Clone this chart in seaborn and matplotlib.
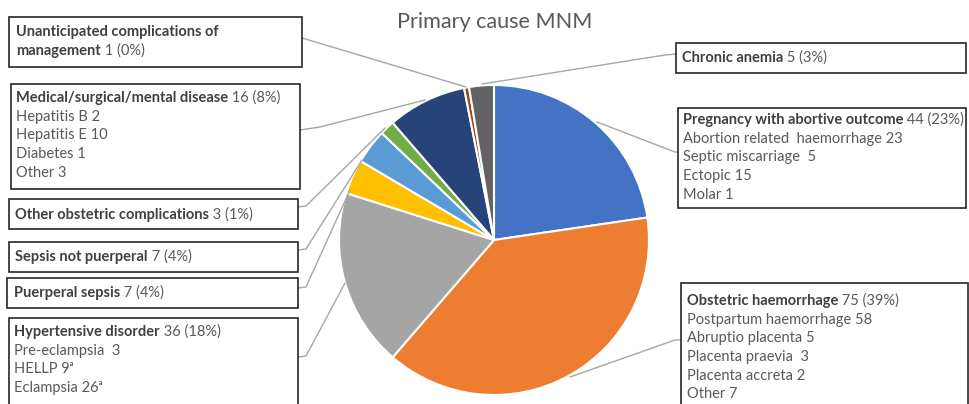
import matplotlib
matplotlib.use('Agg')
import matplotlib.pyplot as plt
import seaborn as sns
from matplotlib.patches import Rectangle

# slices, clockwise from 12 o'clock
causes = ['Pregnancy with abortive outcome', 'Obstetric haemorrhage', 'Hypertensive disorder',
          'Puerperal sepsis', 'Sepsis not puerperal', 'Other obstetric complications',
          'Medical/surgical/mental disease', 'Unanticipated complications of management',
          'Chronic anemia']
counts = [44, 75, 36, 7, 7, 3, 16, 1, 5]
shares = ['23%', '39%', '18%', '4%', '4%', '1%', '8%', '0%', '3%']
colors = ['#4472C4', '#ED7D31', '#A5A5A5', '#FFC000', '#5B9BD5', '#70AD47',
          '#264478', '#9E480E', '#636363']

sub_abortive = ['Abortion related  haemorrhage 23', 'Septic miscarriage  5', 'Ectopic 15', 'Molar 1']
sub_haem = ['Postpartum haemorrhage 58', 'Abruptio placenta 5', 'Placenta praevia  3',
            'Placenta accreta 2', 'Other 7']
sub_hyper = ['Pre-eclampsia  3', 'HELLP 9ᵃ', 'Eclampsia 26ᵃ']
sub_medical = ['Hepatitis B 2', 'Hepatitis E 10', 'Diabetes 1', 'Other 3']

sns.set_theme(style='white')
plt.rcParams['font.family'] = ['Lato', 'DejaVu Sans']

fig = plt.figure(figsize=(9.69, 4.04), dpi=100)
ax = fig.add_axes([0, 0, 1, 1])

# y axis runs downward, so counterclock=True turns clockwise on screen
ax.pie(counts, colors=colors, startangle=-90, counterclock=True,
       center=(494, 240), radius=155,
       wedgeprops=dict(edgecolor='white', linewidth=1.5))
ax.set_xlim(0, 969)
ax.set_ylim(404, 0)
ax.set_aspect('equal')
ax.axis('off')

ax.text(495, 22, 'Primary cause MNM', ha='center', va='center', fontsize=15.6, color='#595959')

# (slice index, bold lines, sub lines, box [x0, y0, x1, y1], text x, first line y, leader points)
boxes = [
    (7, ['Unanticipated complications of', 'management'], [], [9, 17, 302, 67], 16, 32,
     [(302, 38), (466, 87)]),
    (6, ['Medical/surgical/mental disease'], sub_medical, [11, 84, 300, 189], 16, 98,
     [(300, 130), (320, 127), (425, 100)]),
    (5, ['Other obstetric complications'], [], [9, 199, 298, 229], 15, 215,
     [(298, 207), (306, 206), (385, 128)]),
    (4, ['Sepsis not puerperal'], [], [9, 242, 298, 272], 15, 257,
     [(298, 250), (306, 249), (362, 160)]),
    (3, ['Puerperal sepsis'], [], [7, 278, 298, 308], 14, 293,
     [(298, 288), (306, 287), (350, 190)]),
    (2, ['Hypertensive disorder'], sub_hyper, [9, 318, 298, 420], 14, 332,
     [(298, 357), (306, 356), (345, 283)]),
    (8, ['Chronic anemia'], [], [676, 43, 966, 73], 682, 58,
     [(676, 54), (665, 55), (482, 84)]),
    (0, ['Pregnancy with abortive outcome'], sub_abortive, [678, 108, 966, 208], 683, 120,
     [(678, 152), (675, 152), (597, 122)]),
    (1, ['Obstetric haemorrhage'], sub_haem, [681, 283, 968, 420], 687, 301,
     [(681, 340), (675, 340), (570, 377)]),
]

step = 18.7
fs = 10.5
for idx, bold_lines, subs, (x0, y0, x1, y1), tx, ty, pts in boxes:
    ax.add_patch(Rectangle((x0, y0), x1 - x0, y1 - y0, facecolor='white',
                           edgecolor='#262626', linewidth=1.2, zorder=3))
    xs, ys = zip(*pts)
    ax.plot(xs, ys, color='#A6A6A6', linewidth=1, zorder=2)
    y = ty
    for j, name in enumerate(bold_lines):
        t = ax.text(tx, y, name, fontsize=fs, fontweight='bold', color='#404040',
                    ha='left', va='center', zorder=4)
        if j == len(bold_lines) - 1:
            ax.annotate(f' {counts[idx]} ({shares[idx]})', xy=(1, 0.5), xycoords=t,
                        fontsize=fs, color='#595959', ha='left', va='center', zorder=4)
        y += step
    for s in subs:
        ax.text(tx, y, s, fontsize=fs, color='#595959', ha='left', va='center', zorder=4)
        y += step

fig.savefig('out.png', dpi=100)
